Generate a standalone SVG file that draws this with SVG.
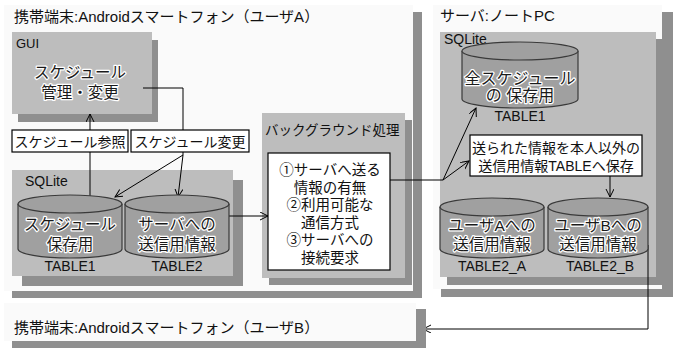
<svg xmlns="http://www.w3.org/2000/svg" width="677" height="351" viewBox="0 0 677 351">
<style>
.t{font-family:'Liberation Sans','Noto Sans CJK JP',sans-serif;fill:#111}
.panel{fill:#bdbdbd}
.shadow{fill:#8f8f8f}
.cyl{fill:#a0a0a0;stroke:#3a3a3a;stroke-width:1.2}
.ct{font-size:15.5px;text-anchor:middle;fill:#1a1a1a;stroke:#fff;stroke-width:2.5px;paint-order:stroke;stroke-linejoin:round}
.ln{fill:none;stroke:#000;stroke-width:1}
.lbl{fill:#fff;stroke:#000;stroke-width:1.2}
.mid{text-anchor:middle}
</style>
<defs>
<marker id="arr" markerWidth="10" markerHeight="10" refX="8" refY="4" orient="auto" markerUnits="userSpaceOnUse">
<path d="M0,0 L8,4 L0,8" fill="none" stroke="#000" stroke-width="1"/>
</marker>
</defs>
<rect width="677" height="351" fill="#fff"/>

<g id="phoneA">
<rect class="shadow" x="12" y="12" width="410" height="286"/>
<rect x="4" y="5" width="409" height="286" fill="#fafafa"/>
<text class="t" x="14" y="22" font-size="15">携帯端末:Androidスマートフォン（ユーザA）</text>
</g>

<g id="server">
<rect class="shadow" x="441" y="12" width="232" height="285"/>
<rect x="433" y="5" width="229" height="284" fill="#fafafa"/>
<text class="t" x="440" y="21" font-size="15">サーバ:ノートPC</text>
</g>

<g id="gui">
<rect class="shadow" x="18" y="40" width="140" height="82"/>
<rect class="panel" x="12" y="32" width="140" height="82"/>
<text class="t" x="16" y="48" font-size="13">GUI</text>
<text class="t ct" x="80" y="78">スケジュール</text>
<text class="t ct" x="80" y="98">管理・変更</text>
</g>

<g id="sqliteA">
<rect class="shadow" x="22" y="180" width="221" height="106"/>
<rect class="panel" x="12" y="170" width="221" height="106"/>
<text class="t" x="25" y="186" font-size="14">SQLite</text>
</g>

<g id="bg">
<rect class="shadow" x="269" y="120" width="143" height="165"/>
<rect class="panel" x="262" y="113" width="143" height="165"/>
<text class="t" x="265" y="135" font-size="13.5">バックグラウンド処理</text>
</g>

<g id="sqliteS">
<rect class="shadow" x="447" y="39" width="216" height="246"/>
<rect class="panel" x="440" y="32" width="216" height="245"/>
<text class="t" x="444" y="44" font-size="14">SQLite</text>
</g>

<g id="connectors">
<line class="ln" x1="90" y1="196" x2="90" y2="114" marker-end="url(#arr)"/>
<polyline class="ln" points="143,88 183,88 183,155"/>
<line class="ln" x1="183" y1="155" x2="115" y2="197" marker-end="url(#arr)"/>
<line class="ln" x1="183" y1="155" x2="178" y2="197" marker-end="url(#arr)"/>
<line class="ln" x1="229" y1="216" x2="268" y2="216" marker-end="url(#arr)"/>
<polyline class="ln" points="390,180 443,180"/>
<line class="ln" x1="443" y1="180" x2="476" y2="108" marker-end="url(#arr)"/>
<line class="ln" x1="443" y1="180" x2="469" y2="161" marker-end="url(#arr)"/>
<line class="ln" x1="610" y1="176" x2="610" y2="197" marker-end="url(#arr)"/>
<polyline class="ln" points="648,245 648,329 423,329" marker-end="url(#arr)"/>
</g>

<g id="lblRef">
<rect class="lbl" x="12" y="130" width="116" height="22"/>
<text class="t mid" x="70" y="147" font-size="14">スケジュール参照</text>
</g>
<g id="lblChg">
<rect class="lbl" x="131" y="130" width="118" height="22"/>
<text class="t mid" x="190" y="147" font-size="14">スケジュール変更</text>
</g>

<g id="tableA1">
<path class="cyl" d="M18,204 V249 A52,9 0 0 0 122,249 V204"/>
<ellipse class="cyl" cx="70" cy="204" rx="52" ry="9"/>
<text class="t ct" x="70" y="230">スケジュール</text>
<text class="t ct" x="70" y="250">保存用</text>
<text class="t mid" x="70" y="271" font-size="14">TABLE1</text>
</g>
<g id="tableA2">
<path class="cyl" d="M125,204 V249 A52,9 0 0 0 229,249 V204"/>
<ellipse class="cyl" cx="177" cy="204" rx="52" ry="9"/>
<text class="t ct" x="177" y="230">サーバへの</text>
<text class="t ct" x="177" y="250">送信用情報</text>
<text class="t mid" x="177" y="271" font-size="14">TABLE2</text>
</g>

<g id="bgbox">
<rect class="lbl" x="268" y="153" width="122" height="117"/>
<text class="t mid" x="330" y="175" font-size="14.5">①サーバへ送る</text>
<text class="t mid" x="330" y="193" font-size="14.5">情報の有無</text>
<text class="t mid" x="330" y="210" font-size="14.5">②利用可能な</text>
<text class="t mid" x="330" y="228" font-size="14.5">通信方式</text>
<text class="t mid" x="330" y="245" font-size="14.5">③サーバへの</text>
<text class="t mid" x="330" y="263" font-size="14.5">接続要求</text>
</g>

<g id="tableS1">
<path class="cyl" d="M462,51 V99 A58,9 0 0 0 578,99 V51"/>
<ellipse class="cyl" cx="520" cy="51" rx="58" ry="9"/>
<text class="t ct" x="520" y="84" style="font-size:16px">全スケジュール</text>
<text class="t ct" x="520" y="101" style="font-size:16px">の 保存用</text>
<text class="t mid" x="520" y="121" font-size="14">TABLE1</text>
</g>

<g id="lblSave">
<rect class="lbl" x="470" y="135" width="172" height="41"/>
<text class="t mid" x="556" y="153" font-size="14">送られた情報を本人以外の</text>
<text class="t mid" x="556" y="171" font-size="14">送信用情報TABLEへ保存</text>
</g>

<g id="tableS2A">
<path class="cyl" d="M440,207 V249 A52,9 0 0 0 544,249 V207"/>
<ellipse class="cyl" cx="492" cy="207" rx="52" ry="9"/>
<text class="t ct" x="492" y="231">ユーザAへの</text>
<text class="t ct" x="492" y="250">送信用情報</text>
<text class="t mid" x="492" y="271" font-size="14">TABLE2_A</text>
</g>
<g id="tableS2B">
<path class="cyl" d="M548,207 V249 A50,9 0 0 0 648,249 V207"/>
<ellipse class="cyl" cx="598" cy="207" rx="50" ry="9"/>
<text class="t ct" x="598" y="231">ユーザBへの</text>
<text class="t ct" x="598" y="250">送信用情報</text>
<text class="t mid" x="600" y="271" font-size="14">TABLE2_B</text>
</g>

<g id="phoneB">
<rect class="shadow" x="12" y="309" width="414" height="39"/>
<rect x="4" y="303" width="412" height="38" fill="#fafafa"/>
<text class="t" x="14" y="333" font-size="15">携帯端末:Androidスマートフォン（ユーザB）</text>
</g>
</svg>
